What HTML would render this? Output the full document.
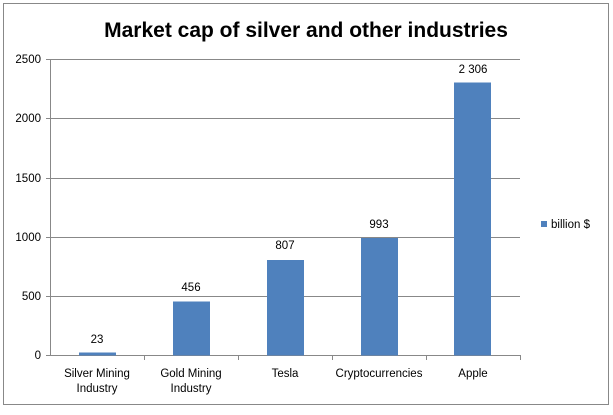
<!DOCTYPE html>
<html><head><style>body{margin:0;background:#fff}</style></head><body>
<svg width="613" height="410" xmlns="http://www.w3.org/2000/svg" font-family="Liberation Sans, sans-serif">
<rect x="0" y="0" width="613" height="410" fill="#fff"/>
<rect x="3.5" y="3.5" width="605" height="401" fill="none" stroke="#888" stroke-width="1"/>
<text x="306" y="37" text-anchor="middle" font-size="21" font-weight="bold" fill="#000">Market cap of silver and other industries</text>
<g stroke="#888" stroke-width="1">
<line x1="50" y1="59.5" x2="520" y2="59.5"/>
<line x1="50" y1="118.5" x2="520" y2="118.5"/>
<line x1="50" y1="178.5" x2="520" y2="178.5"/>
<line x1="50" y1="237.5" x2="520" y2="237.5"/>
<line x1="50" y1="296.5" x2="520" y2="296.5"/>
<line x1="50.5" y1="59" x2="50.5" y2="356"/>
<line x1="46" y1="355.5" x2="520" y2="355.5"/>
<line x1="46" y1="59.5" x2="50" y2="59.5"/><line x1="46" y1="118.5" x2="50" y2="118.5"/><line x1="46" y1="178.5" x2="50" y2="178.5"/><line x1="46" y1="237.5" x2="50" y2="237.5"/><line x1="46" y1="296.5" x2="50" y2="296.5"/>
<line x1="144.5" y1="355" x2="144.5" y2="360"/><line x1="238.5" y1="355" x2="238.5" y2="360"/><line x1="332.5" y1="355" x2="332.5" y2="360"/><line x1="426.5" y1="355" x2="426.5" y2="360"/><line x1="520.5" y1="355" x2="520.5" y2="360"/>
</g>
<g font-size="11.5" fill="#000" text-anchor="end">
<text x="41" y="63">2500</text><text x="41" y="122">2000</text><text x="41" y="182">1500</text><text x="41" y="241">1000</text><text x="41" y="300">500</text><text x="41" y="359">0</text>
</g>
<g fill="#4f81bd">
<rect x="79" y="352.5" width="37" height="3"/>
<rect x="173" y="301.5" width="37" height="54"/>
<rect x="267" y="260" width="37" height="95.5"/>
<rect x="361" y="238" width="37" height="117.5"/>
<rect x="454" y="82.5" width="37" height="273"/>
</g>
<g font-size="11.5" fill="#000" text-anchor="middle">
<text x="97" y="343">23</text><text x="191" y="291">456</text><text x="285" y="249">807</text><text x="379" y="228">993</text><text x="473" y="73">2 306</text>
<text x="97" y="377">Silver Mining</text><text x="97" y="392">Industry</text>
<text x="191" y="377">Gold Mining</text><text x="191" y="392">Industry</text>
<text x="285" y="377">Tesla</text><text x="379" y="377">Cryptocurrencies</text><text x="473" y="377">Apple</text>
</g>
<rect x="541" y="221" width="6" height="6" fill="#4f81bd"/>
<text x="551" y="228" font-size="11.5" fill="#000">billion $</text>
</svg>
</body></html>
